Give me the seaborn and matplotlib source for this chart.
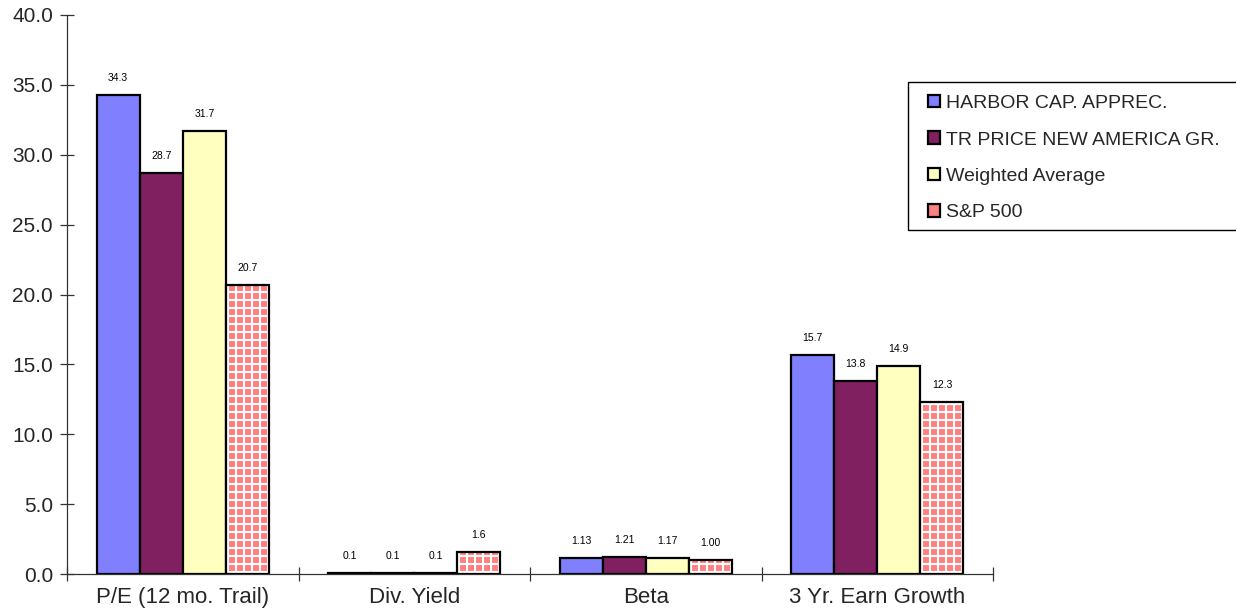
import matplotlib
matplotlib.use("Agg")
import matplotlib.pyplot as plt
import numpy as np
from matplotlib.patches import Patch, Rectangle
from matplotlib.ticker import FixedLocator, FormatStrFormatter, NullFormatter, FixedFormatter
import seaborn as sns
import pandas as pd

# ---- data -------------------------------------------------------------
categories = ["P/E (12 mo. Trail)", "Div. Yield", "Beta", "3 Yr. Earn Growth"]
series = ["HARBOR CAP. APPREC.", "TR PRICE NEW AMERICA GR.", "Weighted Average", "S&P 500"]
harbor = [34.3, 0.1, 1.13, 15.7]
tr_price = [28.7, 0.1, 1.21, 13.8]
weighted = [31.7, 0.1, 1.17, 14.9]
sp500 = [20.7, 1.6, 1.00, 12.3]
label_fmt = ["{:.1f}", "{:.1f}", "{:.2f}", "{:.1f}"]
y_ticks = [0, 5, 10, 15, 20, 25, 30, 35, 40]

colors = {
    "HARBOR CAP. APPREC.": "#8080FF",
    "TR PRICE NEW AMERICA GR.": "#802060",
    "Weighted Average": "#FFFFC0",
    "S&P 500": "#FF8080",
}

values = {s: v for s, v in zip(series, [harbor, tr_price, weighted, sp500])}
df = pd.DataFrame(
    [(c, s, values[s][i]) for s in series for i, c in enumerate(categories)],
    columns=["metric", "fund", "value"],
)

sns.set_style("white")
plt.rcParams["font.family"] = ["Liberation Sans", "DejaVu Sans"]

W, H = 1236, 614
fig = plt.figure(figsize=(W / 100, H / 100), dpi=100)
ax_left, ax_right, ax_bottom, ax_top = 67, 993, 40, 599
ax = fig.add_axes([ax_left / W, ax_bottom / H, (ax_right - ax_left) / W, (ax_top - ax_bottom) / H])

sns.barplot(
    data=df, x="metric", y="value", hue="fund", order=categories,
    hue_order=series, palette=colors, saturation=1, width=0.745, gap=0,
    edgecolor="black", linewidth=1.6, legend=False, ax=ax,
)

ax.set_xlim(-0.5, 3.5)
ax.set_ylim(0, 40)

# S&P bars: white grid pattern (8 px cells) clipped to each bar, black outline on top
px_x = 4.0 / (ax_right - ax_left)      # data units per pixel, x
px_y = 40.0 / (ax_top - ax_bottom)     # data units per pixel, y
cell = 8
for p in list(ax.containers[3]):
    p.set_linewidth(0)
    x0, y0, w, h = p.get_x(), p.get_y(), p.get_width(), p.get_height()
    z = p.get_zorder()
    for xv in np.arange(x0 + 2 * px_x, x0 + w, cell * px_x):
        ln, = ax.plot([xv, xv], [y0, y0 + h], color="white", lw=1.5, zorder=z + 0.05,
                      solid_capstyle="butt")
        ln.set_clip_path(p)
    for yv in np.arange(y0 + 2 * px_y, y0 + h, cell * px_y):
        ln, = ax.plot([x0, x0 + w], [yv, yv], color="white", lw=1.5, zorder=z + 0.05,
                      solid_capstyle="butt")
        ln.set_clip_path(p)
    ax.add_patch(Rectangle((x0, y0), w, h, fill=False, edgecolor="black",
                           linewidth=1.6, zorder=z + 0.1))

# value labels above each bar
for cont, s in zip(ax.containers, series):
    for i, bar in enumerate(cont):
        v = values[s][i]
        ax.annotate(label_fmt[i].format(v), (bar.get_x() + bar.get_width() / 2, v),
                    xytext=(0, 17), textcoords="offset pixels",
                    ha="center", va="center", fontsize=7.5, color="black")

# axes styling
ax.yaxis.set_major_locator(FixedLocator(y_ticks))
ax.yaxis.set_major_formatter(FormatStrFormatter("%.1f"))
ax.set_xlabel("")
ax.set_ylabel("")
ax.xaxis.set_major_locator(FixedLocator([-0.5, 0.5, 1.5, 2.5, 3.5]))
ax.xaxis.set_major_formatter(NullFormatter())
ax.xaxis.set_minor_locator(FixedLocator([0, 1, 2, 3]))
ax.xaxis.set_minor_formatter(FixedFormatter(categories))
ax.tick_params(axis="x", which="major", bottom=True, direction="inout", length=10,
               width=0.9, color="#333333")
ax.tick_params(axis="x", which="minor", bottom=True, length=0, pad=9.5, labelsize=16)
ax.tick_params(axis="y", which="major", left=True, direction="inout", length=10, width=0.9,
               color="#333333", labelsize=15, pad=5)
for side in ["top", "right"]:
    ax.spines[side].set_visible(False)
for side in ["left", "bottom"]:
    ax.spines[side].set_color("#333333")
    ax.spines[side].set_linewidth(0.9)

# legend with a box running off the right edge
fig.patches.append(Rectangle((908 / W, 1 - 230 / H), 340 / W, 148 / H,
                             transform=fig.transFigure, fill=False, edgecolor="black",
                             linewidth=1.0, figure=fig))
handles = [Patch(facecolor=colors[s], edgecolor="black", linewidth=1.6) for s in series]
fig.legend(handles, series, loc="upper left", bbox_to_anchor=(928 / W, 1 - 95 / H),
           frameon=False, fontsize=14, handlelength=0.6, handleheight=0.6,
           handletextpad=0.3, labelspacing=1.0, borderaxespad=0, borderpad=0)

fig.savefig("out.png", dpi=100)
